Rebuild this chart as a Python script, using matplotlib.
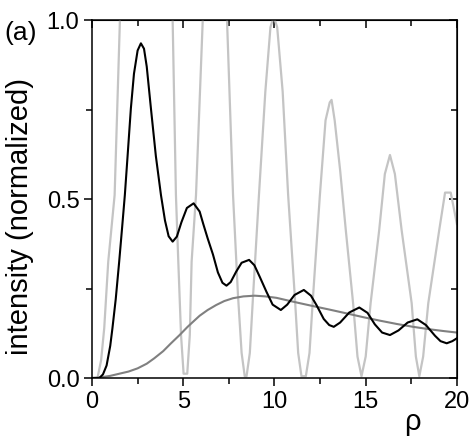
import numpy as np
import matplotlib.pyplot as plt

plt.rcParams['font.family'] = ['Liberation Sans', 'DejaVu Sans']

# black curve: oscillating intensity
rho_black = [0, 0.4, 0.6, 0.8, 1.0, 1.12, 1.3, 1.49, 1.65, 1.8, 1.95, 2.13, 2.3, 2.5, 2.68,
             2.85, 3.0, 3.23, 3.5, 3.78, 4.0, 4.2, 4.42, 4.65, 4.9, 5.2, 5.57, 5.9, 6.1,
             6.34, 6.63, 6.9, 7.15, 7.37, 7.6, 7.9, 8.2, 8.61, 8.9, 9.2, 9.56, 9.9, 10.35,
             10.7, 11.1, 11.61, 12.0, 12.3, 12.7, 13.0, 13.25, 13.6, 14.1, 14.65, 15.1,
             15.5, 15.9, 16.33, 16.8, 17.3, 17.83, 18.3, 18.8, 19.1, 19.44, 19.75, 20.0]
int_black = [0, 0.0, 0.01, 0.035, 0.09, 0.139, 0.22, 0.325, 0.42, 0.511, 0.62, 0.753, 0.85, 0.915, 0.935,
             0.92, 0.87, 0.753, 0.62, 0.511, 0.44, 0.396, 0.381, 0.395, 0.435, 0.475, 0.488, 0.465, 0.43,
             0.39, 0.345, 0.295, 0.266, 0.258, 0.268, 0.297, 0.322, 0.33, 0.315, 0.282, 0.241, 0.205, 0.19,
             0.205, 0.232, 0.246, 0.23, 0.204, 0.165, 0.148, 0.143, 0.155, 0.183, 0.197, 0.182,
             0.15, 0.127, 0.12, 0.133, 0.155, 0.164, 0.148, 0.118, 0.103, 0.097, 0.103, 0.111]

# medium grey curve: smooth envelope
rho_grey = [0, 0.5, 1.0, 1.58, 2.0, 2.5, 3.0, 3.41, 3.9, 4.33, 4.8, 5.24, 5.6, 5.9, 6.34, 6.81,
            7.25, 7.73, 8.3, 8.92, 9.5, 10.11, 10.7, 11.39, 12.2, 13.03, 14.0, 14.86, 15.8,
            16.7, 17.6, 18.52, 19.3, 20.0]
int_grey = [0, 0.002, 0.006, 0.013, 0.018, 0.027, 0.04, 0.055, 0.075, 0.097, 0.12, 0.143, 0.16, 0.174,
            0.19, 0.204, 0.215, 0.223, 0.228, 0.23, 0.228, 0.224, 0.217, 0.209, 0.2, 0.191, 0.18,
            0.17, 0.16, 0.151, 0.143, 0.136, 0.131, 0.127]

# light grey curve: fringes (peaks above 1.0 are clipped)
rho_light = [0, 0.3, 0.5, 0.67, 0.89, 1.24, 1.53, 2.2, 2.9, 3.6, 4.42, 4.6, 4.73, 4.88, 5.02, 5.22,
             5.36, 5.46, 5.7, 6.07, 6.7, 7.4, 7.73, 8.0, 8.2, 8.37, 8.47, 8.65, 8.83, 9.15,
             9.5, 9.78, 9.96, 10.15, 10.45, 10.75, 11.11, 11.3, 11.48, 11.72, 11.92, 12.12,
             12.49, 12.8, 13.03, 13.13, 13.3, 13.6, 13.91, 14.31, 14.55, 14.77, 15.0, 15.27,
             15.74, 16.05, 16.33, 16.6, 16.97, 17.52, 17.75, 17.94, 18.15, 18.43, 19.03,
             19.35, 19.66, 20.0]
int_light = [0, 0.0, 0.05, 0.139, 0.325, 0.511, 1.0, 2.2, 2.9, 2.2, 1.0, 0.511, 0.325, 0.12, 0.012, 0.012,
             0.12, 0.325, 0.511, 1.0, 1.6, 1.0, 0.511, 0.232, 0.07, 0.005, 0.005, 0.07, 0.232, 0.511,
             0.8, 0.98, 1.01, 0.98, 0.8, 0.511, 0.232, 0.07, 0.005, 0.005, 0.07, 0.232,
             0.511, 0.72, 0.77, 0.777, 0.72, 0.58, 0.413, 0.209, 0.06, 0.005, 0.06, 0.209,
             0.413, 0.57, 0.623, 0.57, 0.413, 0.209, 0.06, 0.005, 0.06, 0.209, 0.413,
             0.518, 0.518, 0.43]

fig = plt.figure(figsize=(4.73, 4.36), dpi=100)
ax = fig.add_axes([0.1945, 0.133, 0.7715, 0.821])

ax.plot(rho_light, int_light, color='#c4c4c4', lw=1.6)
ax.plot(rho_grey, int_grey, color='#808080', lw=1.5)
ax.plot(rho_black, int_black, color='black', lw=1.5)

ax.set_xlim(0, 20)
ax.set_ylim(0, 1)
ax.set_xticks([0, 5, 10, 15, 20])
ax.set_xticks(np.arange(0, 20.1, 2.5), minor=True)
ax.set_yticks([0, 0.5, 1.0])
ax.set_yticks([0.25, 0.75], minor=True)
ax.set_yticklabels(['0.0', '0.5', '1.0'])
ax.tick_params(which='both', direction='out', labelsize=17, width=1.1, pad=3)
ax.tick_params(which='major', length=6)
ax.tick_params(which='minor', length=4)
for s in ax.spines.values():
    s.set_linewidth(1.1)

# mirrored ticks pointing inward on top and right
top = ax.secondary_xaxis('top')
top.set_xticks([0, 5, 10, 15, 20])
top.set_xticks(np.arange(0, 20.1, 2.5), minor=True)
top.tick_params(which='both', direction='in', labeltop=False, width=1.1)
top.tick_params(which='major', length=6)
top.tick_params(which='minor', length=4)
right = ax.secondary_yaxis('right')
right.set_yticks([0, 0.5, 1.0])
right.set_yticks([0.25, 0.75], minor=True)
right.tick_params(which='both', direction='in', labelright=False, width=1.1)
right.tick_params(which='major', length=6)
right.tick_params(which='minor', length=4)

ax.set_ylabel('intensity (normalized)', fontsize=21)
ax.yaxis.set_label_coords(-0.16, 0.4525)
fig.text(0.871, 0.032, 'ρ', fontsize=21, ha='center', va='center')
fig.text(0.01, 0.925, '(a)', fontsize=19, ha='left', va='center')

fig.savefig('out.png', dpi=100)
